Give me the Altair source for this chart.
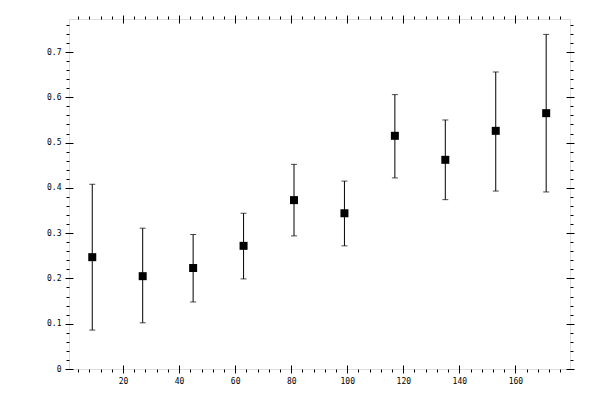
import altair as alt
import pandas as pd

# data
xs = [9, 27, 45, 63, 81, 99, 117, 135, 153, 171]
ys = [0.247, 0.205, 0.223, 0.272, 0.373, 0.344, 0.515, 0.462, 0.526, 0.565]
lo = [0.086, 0.102, 0.148, 0.199, 0.294, 0.272, 0.422, 0.374, 0.393, 0.391]
hi = [0.408, 0.311, 0.297, 0.344, 0.452, 0.415, 0.606, 0.550, 0.656, 0.739]

x_major = [20, 40, 60, 80, 100, 120, 140, 160]
x_minor = list(range(4, 180, 4))
y_major = [0, 0.1, 0.2, 0.3, 0.4, 0.5, 0.6, 0.7]
y_minor = [round(0.02 * i, 2) for i in range(1, 39)]
y_labels = ["0", "0.1", "0.2", "0.3", "0.4", "0.5", "0.6", "0.7"]

df = pd.DataFrame({"x": xs, "y": ys, "lo": lo, "hi": hi})

xscale = alt.Scale(domain=[0.7, 179.5], nice=False, zero=False)
yscale = alt.Scale(domain=[0, 0.773], nice=False, zero=False)

FONT = "DejaVu Sans Mono"
base = alt.Chart(df)


def axis_layer(xaxis, yaxis):
    return base.mark_point(opacity=0).encode(
        x=alt.X("x:Q", scale=xscale, axis=xaxis, title=None),
        y=alt.Y("y:Q", scale=yscale, axis=yaxis, title=None),
    )


common = dict(domain=False, grid=False, title=None, tickColor="black", tickWidth=1)

# labels
lab = axis_layer(
    alt.Axis(orient="bottom", values=x_major, ticks=False, labelPadding=8,
             labelFont=FONT, labelFontSize=8, labelColor="black", **common),
    alt.Axis(orient="left", values=y_major, ticks=False, labelPadding=8,
             labelExpr="datum.value == 0 ? '0' : format(datum.value, '.1f')",
             labelFont=FONT, labelFontSize=8, labelColor="black", **common),
)
# minor ticks bottom/left
minor_bl = axis_layer(
    alt.Axis(orient="bottom", values=x_minor, labels=False, tickSize=3, **common),
    alt.Axis(orient="left", values=y_minor, labels=False, tickSize=3, **common),
)
# major ticks bottom/left crossing the frame
major_bl = axis_layer(
    alt.Axis(orient="bottom", values=x_major, labels=False, tickSize=8, offset=-4, **common),
    alt.Axis(orient="left", values=y_major, labels=False, tickSize=8, offset=-4, **common),
)
# minor ticks top/right
minor_tr = axis_layer(
    alt.Axis(orient="top", values=x_minor, labels=False, tickSize=3, **common),
    alt.Axis(orient="right", values=y_minor, labels=False, tickSize=3, **common),
)
# major ticks top/right
major_tr = axis_layer(
    alt.Axis(orient="top", values=x_major, labels=False, tickSize=8, offset=-4, **common),
    alt.Axis(orient="right", values=y_major, labels=False, tickSize=8, offset=-4, **common),
)

bars = base.mark_rule(color="black", strokeWidth=1).encode(
    x=alt.X("x:Q", scale=xscale, axis=None),
    y=alt.Y("lo:Q", scale=yscale, axis=None),
    y2="hi:Q",
)
cap_lo = base.mark_tick(color="black", orient="horizontal", size=6, thickness=1).encode(
    x=alt.X("x:Q", scale=xscale, axis=None),
    y=alt.Y("lo:Q", scale=yscale, axis=None),
)
cap_hi = base.mark_tick(color="black", orient="horizontal", size=6, thickness=1).encode(
    x=alt.X("x:Q", scale=xscale, axis=None),
    y=alt.Y("hi:Q", scale=yscale, axis=None),
)
pts = base.mark_square(color="black", filled=True, opacity=1, size=64).encode(
    x=alt.X("x:Q", scale=xscale, axis=None),
    y=alt.Y("y:Q", scale=yscale, axis=None),
)

chart = alt.layer(
    lab, minor_bl, major_bl, minor_tr, major_tr, bars, cap_lo, cap_hi, pts
).resolve_axis(x="independent", y="independent").properties(
    width=501,
    height=350,
    padding={"left": 61, "top": 11, "right": 21, "bottom": 22},
    autosize="none",
).configure_view(stroke="black", strokeWidth=1).configure(background="white")

chart.save("out.html", embed_options={"renderer": "svg", "actions": False})
